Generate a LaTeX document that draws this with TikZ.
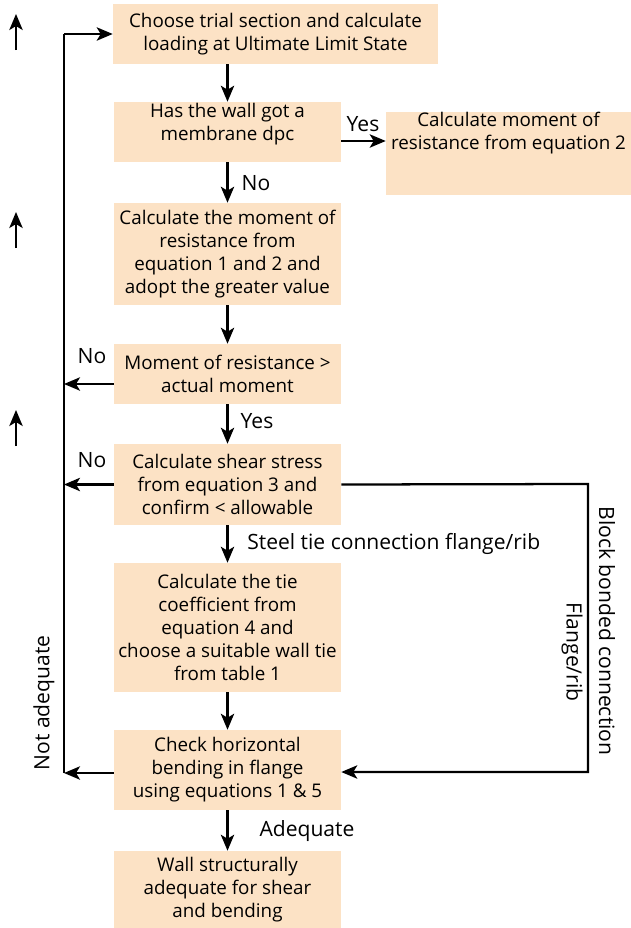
\documentclass[tikz,border=0pt]{standalone}
\usepackage{fontspec}
\setmainfont{Open Sans}
\usetikzlibrary{arrows.meta}
\def\u{0.75pt}
\definecolor{peach}{RGB}{252,226,197}
\tikzset{
  box/.style={fill=peach, align=center, inner sep=0pt},
  boxtext/.style={align=center, inner sep=0pt},
  arr/.style={line width=1.7pt, -{Stealth[length=12pt,width=10pt,inset=3pt]}},
  line/.style={line width=1.7pt},
  lbl/.style={inner sep=0pt, font=\fontsize{15.8}{19}\selectfont}
}
\begin{document}
\begin{tikzpicture}[x=\u, y=-\u, font=\fontsize{14.1}{17.2}\selectfont]
			%%%%% START %%%%%
			\useasboundingbox (0,0) rectangle (631,928);
			
			\node[box, minimum width=325*\u, minimum height=60*\u] (b1) at (275.5, 34)
				{Choose trial section and calculate\\loading at Ultimate Limit State};
			\node[box, minimum width=227*\u, minimum height=60*\u] (b2) at (227.5, 132) {};
			\node[boxtext] (b2t) at (227.5, 124) {Has the wall got a\\membrane dpc};
			\node[box, minimum width=245*\u, minimum height=83*\u] (b3) at (508.5, 153.5) {};
			\node[boxtext] (b3t) at (508.5, 133) {Calculate moment of\\resistance from equation 2};
			\node[box, minimum width=227*\u, minimum height=102*\u] (b4) at (227.5, 254)
				{Calculate the moment of\\resistance from\\equation 1 and 2 and\\adopt the greater value};
			\node[box, minimum width=227*\u, minimum height=60*\u] (b5) at (227.5, 374)
				{Moment of resistance >\\actual moment};
			\node[box, minimum width=227*\u, minimum height=81*\u] (b6) at (227.5, 484.5)
				{Calculate shear stress\\from equation 3 and\\confirm < allowable};
			\node[box, minimum width=227*\u, minimum height=129*\u] (b7) at (227.5, 627.5)
				{Calculate the tie\\coefficient from\\equation 4 and\\choose a suitable wall tie\\from table 1};
			\node[box, minimum width=227*\u, minimum height=80*\u] (b8) at (227.5, 770)
				{Check horizontal\\bending in flange\\using equations 1 \& 5};
			\node[box, minimum width=227*\u, minimum height=77*\u] (b9) at (227.5, 889.5)
				{Wall structurally\\adequate for shear\\and bending};
			
			% main line down
			\draw[arr] (b2.north |- b1.south) -- (b2.north);
			\draw[arr] (b2) -- (b4);
			\draw[arr] (b4) -- (b5);
			\draw[arr] (b5) -- (b6);
			\draw[arr] (b6) -- (b7);
			\draw[arr] (b7) -- (b8);
			\draw[arr] (b8) -- (b9);
			\draw[arr] ([yshift=-9*\u]b2.east) -- ([yshift=-9*\u]b2.east -| b3.west);
			
			% loop back on the left
			\coordinate (lt) at (64, 34);
			\draw[line] ([yshift=-3*\u]b8.west -| lt) -- (lt);
			\draw[arr] (lt) -- (b1.west);
			\draw[arr] ([yshift=-10*\u]b5.west) -- ([yshift=-10*\u]b5.west -| lt);
			\draw[arr] (b6.west) -- (b6.west -| lt);
			\draw[arr] ([yshift=-3*\u]b8.west) -- ([yshift=-3*\u]b8.west -| lt);
			
			% block bonded route on the right
			\coordinate (rx) at (588, 484);
			\draw[arr] (b6.east) -- (rx) |- ([yshift=-2*\u]b8.east);
			
			\node[lbl] (yes1) at (363, 124) {Yes};
			\node[lbl] (no1) at (256, 183) {No};
			\node[lbl] (no2) at (92, 356) {No};
			\node[lbl] (yes2) at (257, 421) {Yes};
			\node[lbl] (no3) at (92, 460) {No};
			\node[lbl, anchor=west] (steel) at (247, 544) {Steel tie connection flange/rib};
			\node[lbl] (adeq) at (307, 831) {Adequate};
			\node[lbl, rotate=90] (notadeq) at (44, 703) {Not adequate};
			\node[lbl, rotate=-90] (block) at (607, 631) {Block bonded connection};
			\node[lbl, rotate=-90] (flrib) at (572, 652) {Flange/rib};
			
			% stray marks in the margin
			\foreach \y in {50, 248, 446}
				\draw[arr] (16, \y) -- (16, \y-36);
			%%%%% END %%%%%
\end{tikzpicture}
\end{document}
